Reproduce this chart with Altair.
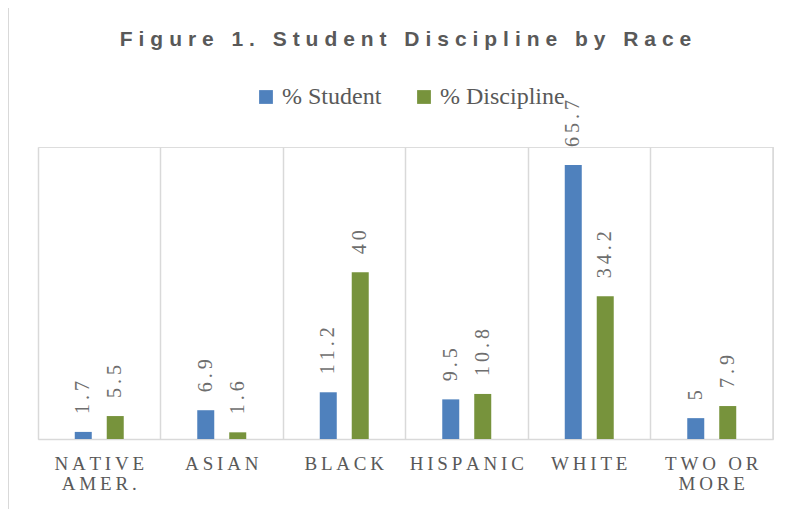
import altair as alt
import pandas as pd

categories = ["NATIVE AMER.", "ASIAN", "BLACK", "HISPANIC", "WHITE", "TWO OR MORE"]
series = ["% Student", "% Discipline"]
pct_student = [1.7, 6.9, 11.2, 9.5, 65.7, 5]
pct_discipline = [5.5, 1.6, 40, 10.8, 34.2, 7.9]
colors = ["#4F81BD", "#77933C"]

rows = []
for c, s, d in zip(categories, pct_student, pct_discipline):
    rows.append({"race": c, "series": series[0], "value": s})
    rows.append({"race": c, "series": series[1], "value": d})
df = pd.DataFrame(rows)

TS = "\u2009"
title_text = (TS + "\u200A").join("Figure 1. Student Discipline by Race")

W, H = 735, 292
SERIF = "Liberation Serif"

label_expr = (
    "split(replace(replace(replace(datum.label, regexp('([^ ])(?=[^ ])', 'g'), '$1" + TS + "'),"
    " regexp(' (?=[^ ]*$)'), '|'), regexp(' ', 'g'), '" + TS + " " + TS + "'), '|')"
)

x_enc = alt.X(
    "race:N",
    sort=categories,
    scale=alt.Scale(paddingInner=0, paddingOuter=0),
    axis=alt.Axis(
        title=None,
        ticks=False,
        grid=True,
        bandPosition=0,
        gridColor="#d9d9d9",
        gridWidth=1.5,
        domainColor="#d9d9d9",
        domainWidth=1.5,
        labelAngle=0,
        labelFont=SERIF,
        labelFontSize=19,
        labelColor="#595959",
        labelPadding=15,
        labelLineHeight=20,
        labelExpr=label_expr,
    ),
)
xo_enc = alt.XOffset(
    "series:N",
    sort=series,
    scale=alt.Scale(paddingInner=0.17, paddingOuter=1),
)
y_enc = alt.Y("value:Q", scale=alt.Scale(domain=[0, 70]), axis=None)

bars = alt.Chart(df).mark_bar(width=17).encode(
    x=x_enc,
    xOffset=xo_enc,
    y=y_enc,
    color=alt.Color(
        "series:N",
        sort=series,
        scale=alt.Scale(domain=series, range=colors),
        legend=alt.Legend(
            title=None,
            orient="none",
            legendX=216,
            legendY=-62,
            direction="horizontal",
            symbolType="square",
            symbolSize=190,
            symbolStrokeWidth=0,
            labelFont=SERIF,
            labelFontSize=24,
            labelColor="#595959",
            labelOffset=4,
            columnPadding=30,
        ),
    ),
)

labels = alt.Chart(df).transform_calculate(
    lab="replace(toString(datum.value), regexp('(.)(?=.)', 'g'), '$1" + TS + "')"
).mark_text(
    angle=270,
    align="left",
    baseline="middle",
    dx=18,
    font=SERIF,
    fontSize=20,
    color="#6e6e6e",
).encode(
    x=alt.X("race:N", sort=categories),
    xOffset=alt.XOffset("series:N", sort=series),
    y=alt.Y("value:Q"),
    text="lab:N",
)

edge = pd.DataFrame({"k": [0]})
right_rule = alt.Chart(edge).mark_rule(color="#d9d9d9", strokeWidth=1.5).encode(
    x=alt.value(W), y=alt.value(0), y2=alt.value(H)
)
border = alt.Chart(edge).mark_rule(color="#d9d9d9", strokeWidth=1).encode(
    x=alt.value(-29.5), y=alt.value(-147), y2=alt.value(H + 80)
)

chart = alt.layer(bars, labels, right_rule, border).properties(
    width=W,
    height=H,
    padding={"left": 30, "top": 139, "right": 19, "bottom": 70},
    autosize=alt.AutoSizeParams(type="none"),
    title=alt.TitleParams(
        text=title_text,
        font="Liberation Sans",
        fontSize=21,
        fontWeight="bold",
        color="#595959",
        anchor="middle",
        offset=-50,
    ),
).configure_view(stroke=None).configure(background="white")

chart.save("out.html", embed_options={"renderer": "svg", "actions": False})
